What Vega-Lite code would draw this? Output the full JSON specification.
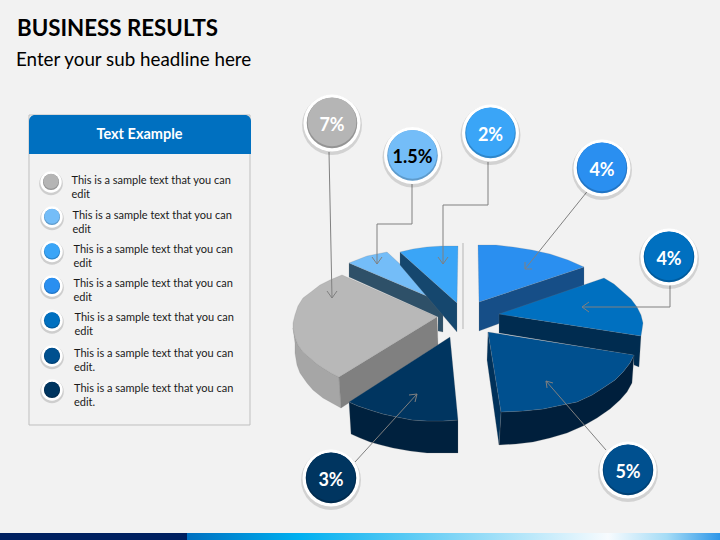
{"$schema":"https://vega.github.io/schema/vega-lite/v6.json","width":720,"height":540,"padding":0,"autosize":{"type":"none"},"background":"#f2f2f2","config":{"view":{"stroke":null}},
"datasets":{
"panels":[{"part":"panel","x":29,"x2":250,"y":115,"y2":425}],
"header":[{"x":29,"x2":251,"y":115,"y2":154}],
"band1":[{"x":0,"x2":187,"y":533,"y2":540}],
"band2":[{"x":187,"x2":720,"y":533,"y2":540}],
"titles":[{"t":"BUSINESS RESULTS","x":17,"y":36}],
"subs":[{"t":"Enter your sub headline here","x":16,"y":66}],
"heads":[{"t":"Text Example","x":139.5,"y":139}],
"items":[
{"t":"This is a sample text that you can\nedit","x":71.5,"y":184},
{"t":"This is a sample text that you can\nedit","x":72.5,"y":219},
{"t":"This is a sample text that you can\nedit","x":73.5,"y":253},
{"t":"This is a sample text that you can\nedit","x":73.5,"y":287},
{"t":"This is a sample text that you can\nedit","x":74.5,"y":321},
{"t":"This is a sample text that you can\nedit.","x":74,"y":357},
{"t":"This is a sample text that you can\nedit.","x":74,"y":392}],
"bullets":[
{"series":"s7","x":51,"y":182},{"series":"s1.5","x":52,"y":217},{"series":"s2","x":52,"y":251.5},{"series":"s4a","x":52,"y":286},{"series":"s4b","x":52,"y":320.5},{"series":"s5","x":52,"y":356},{"series":"s3","x":52,"y":390}],
"callouts":[
{"series":"s7","label":"7%","x":332,"y":123},{"series":"s1.5","label":"1.5%","x":412.5,"y":155.5},{"series":"s2","label":"2%","x":490.5,"y":133},{"series":"s4a","label":"4%","x":602,"y":168},{"series":"s4b","label":"4%","x":669,"y":257},{"series":"s5","label":"5%","x":628,"y":470},{"series":"s3","label":"3%","x":331,"y":478}],
"rule":[{"k":"r","i":0,"x":463,"y":243},{"k":"r","i":1,"x":463,"y":329}],
"leaders":[
{"k":"a","i":0,"x":329,"y":152},{"k":"a","i":1,"x":332,"y":298},
{"k":"a1","i":0,"x":327,"y":291},{"k":"a1","i":1,"x":332,"y":298},{"k":"a1","i":2,"x":337,"y":291},
{"k":"b","i":0,"x":412,"y":184},{"k":"b","i":1,"x":412,"y":224},{"k":"b","i":2,"x":377,"y":224},{"k":"b","i":3,"x":377,"y":264},
{"k":"b1","i":0,"x":372,"y":257},{"k":"b1","i":1,"x":377,"y":264},{"k":"b1","i":2,"x":382,"y":257},
{"k":"c","i":0,"x":488,"y":162},{"k":"c","i":1,"x":488,"y":205},{"k":"c","i":2,"x":443,"y":205},{"k":"c","i":3,"x":443,"y":264},
{"k":"c1","i":0,"x":438,"y":257},{"k":"c1","i":1,"x":443,"y":264},{"k":"c1","i":2,"x":448,"y":257},
{"k":"d","i":0,"x":590,"y":188},{"k":"d","i":1,"x":525,"y":269},
{"k":"d1","i":0,"x":525,"y":262},{"k":"d1","i":1,"x":525,"y":269},{"k":"d1","i":2,"x":532,"y":269},
{"k":"e","i":0,"x":670,"y":285},{"k":"e","i":1,"x":670,"y":307},{"k":"e","i":2,"x":582,"y":307},
{"k":"e1","i":0,"x":589,"y":302},{"k":"e1","i":1,"x":582,"y":307},{"k":"e1","i":2,"x":589,"y":312},
{"k":"f","i":0,"x":606,"y":450},{"k":"f","i":1,"x":546,"y":381},
{"k":"f1","i":0,"x":553,"y":383},{"k":"f1","i":1,"x":546,"y":381},{"k":"f1","i":2,"x":547,"y":388},
{"k":"g","i":0,"x":355,"y":462},{"k":"g","i":1,"x":417,"y":394},
{"k":"g1","i":0,"x":409,"y":395},{"k":"g1","i":1,"x":417,"y":394},{"k":"g1","i":2,"x":415,"y":402}],
"slices":[
{"part":"g_side","i":0,"x":293,"y":328},{"part":"g_side","i":1,"x":295,"y":337},{"part":"g_side","i":2,"x":298,"y":345},{"part":"g_side","i":3,"x":303,"y":352},{"part":"g_side","i":4,"x":310,"y":358},{"part":"g_side","i":5,"x":317,"y":364},{"part":"g_side","i":6,"x":323,"y":368},{"part":"g_side","i":7,"x":331,"y":373},{"part":"g_side","i":8,"x":339,"y":377},{"part":"g_side","i":9,"x":341,"y":408},{"part":"g_side","i":10,"x":323,"y":398},{"part":"g_side","i":11,"x":313,"y":390},{"part":"g_side","i":12,"x":307,"y":383},{"part":"g_side","i":13,"x":300,"y":373},{"part":"g_side","i":14,"x":297,"y":365},{"part":"g_side","i":15,"x":295,"y":353},{"part":"g_side","i":16,"x":295,"y":343},{"part":"g_side","i":17,"x":293,"y":328},
{"part":"g_face","i":0,"x":339,"y":377},{"part":"g_face","i":1,"x":437,"y":317},{"part":"g_face","i":2,"x":438,"y":345},{"part":"g_face","i":3,"x":341,"y":408},{"part":"g_face","i":4,"x":339,"y":377},
{"part":"g_top","i":0,"x":342,"y":275},{"part":"g_top","i":1,"x":330,"y":280},{"part":"g_top","i":2,"x":320,"y":285},{"part":"g_top","i":3,"x":311,"y":292},{"part":"g_top","i":4,"x":303,"y":298},{"part":"g_top","i":5,"x":298,"y":306},{"part":"g_top","i":6,"x":295,"y":315},{"part":"g_top","i":7,"x":293,"y":323},{"part":"g_top","i":8,"x":293,"y":328},{"part":"g_top","i":9,"x":295,"y":337},{"part":"g_top","i":10,"x":298,"y":345},{"part":"g_top","i":11,"x":303,"y":352},{"part":"g_top","i":12,"x":310,"y":358},{"part":"g_top","i":13,"x":317,"y":364},{"part":"g_top","i":14,"x":323,"y":368},{"part":"g_top","i":15,"x":331,"y":373},{"part":"g_top","i":16,"x":339,"y":377},{"part":"g_top","i":17,"x":437,"y":317},{"part":"g_top","i":18,"x":342,"y":275},
{"part":"lb_side","i":0,"x":349,"y":263},{"part":"lb_side","i":1,"x":349,"y":277},{"part":"lb_side","i":2,"x":438,"y":317},{"part":"lb_side","i":3,"x":438,"y":331},{"part":"lb_side","i":4,"x":443,"y":332},{"part":"lb_side","i":5,"x":443,"y":303},{"part":"lb_side","i":6,"x":349,"y":263},
{"part":"lb_top","i":0,"x":349,"y":263},{"part":"lb_top","i":1,"x":367,"y":256},{"part":"lb_top","i":2,"x":387,"y":252},{"part":"lb_top","i":3,"x":441,"y":302},{"part":"lb_top","i":4,"x":349,"y":263},
{"part":"b2_side","i":0,"x":400,"y":252},{"part":"b2_side","i":1,"x":457,"y":303},{"part":"b2_side","i":2,"x":457,"y":332},{"part":"b2_side","i":3,"x":400,"y":265},{"part":"b2_side","i":4,"x":400,"y":252},
{"part":"b2_top","i":0,"x":400,"y":252},{"part":"b2_top","i":1,"x":413,"y":249},{"part":"b2_top","i":2,"x":427,"y":247},{"part":"b2_top","i":3,"x":442,"y":246},{"part":"b2_top","i":4,"x":458,"y":246},{"part":"b2_top","i":5,"x":457,"y":303},{"part":"b2_top","i":6,"x":400,"y":252},
{"part":"b4_side","i":0,"x":479,"y":302},{"part":"b4_side","i":1,"x":584,"y":267},{"part":"b4_side","i":2,"x":584,"y":285},{"part":"b4_side","i":3,"x":498,"y":324},{"part":"b4_side","i":4,"x":479,"y":331},{"part":"b4_side","i":5,"x":479,"y":302},
{"part":"b4_top","i":0,"x":478,"y":245},{"part":"b4_top","i":1,"x":496,"y":245},{"part":"b4_top","i":2,"x":513,"y":247},{"part":"b4_top","i":3,"x":532,"y":250},{"part":"b4_top","i":4,"x":550,"y":254},{"part":"b4_top","i":5,"x":568,"y":260},{"part":"b4_top","i":6,"x":584,"y":267},{"part":"b4_top","i":7,"x":479,"y":302},{"part":"b4_top","i":8,"x":478,"y":245},
{"part":"d4_side","i":0,"x":499,"y":314},{"part":"d4_side","i":1,"x":641,"y":336},{"part":"d4_side","i":2,"x":639,"y":367},{"part":"d4_side","i":3,"x":634,"y":365},{"part":"d4_side","i":4,"x":633,"y":355},{"part":"d4_side","i":5,"x":499,"y":333},{"part":"d4_side","i":6,"x":499,"y":314},
{"part":"d4_top","i":0,"x":604,"y":278},{"part":"d4_top","i":1,"x":614,"y":284},{"part":"d4_top","i":2,"x":623,"y":292},{"part":"d4_top","i":3,"x":631,"y":299},{"part":"d4_top","i":4,"x":637,"y":307},{"part":"d4_top","i":5,"x":641,"y":315},{"part":"d4_top","i":6,"x":643,"y":323},{"part":"d4_top","i":7,"x":642,"y":330},{"part":"d4_top","i":8,"x":641,"y":336},{"part":"d4_top","i":9,"x":499,"y":314},{"part":"d4_top","i":10,"x":604,"y":278},
{"part":"f5_front","i":0,"x":501,"y":412},{"part":"f5_front","i":1,"x":523,"y":411},{"part":"f5_front","i":2,"x":543,"y":409},{"part":"f5_front","i":3,"x":562,"y":405},{"part":"f5_front","i":4,"x":577,"y":402},{"part":"f5_front","i":5,"x":592,"y":395},{"part":"f5_front","i":6,"x":603,"y":388},{"part":"f5_front","i":7,"x":615,"y":380},{"part":"f5_front","i":8,"x":623,"y":372},{"part":"f5_front","i":9,"x":630,"y":363},{"part":"f5_front","i":10,"x":634,"y":355},{"part":"f5_front","i":11,"x":632,"y":383},{"part":"f5_front","i":12,"x":627,"y":392},{"part":"f5_front","i":13,"x":620,"y":400},{"part":"f5_front","i":14,"x":610,"y":409},{"part":"f5_front","i":15,"x":597,"y":418},{"part":"f5_front","i":16,"x":583,"y":426},{"part":"f5_front","i":17,"x":567,"y":433},{"part":"f5_front","i":18,"x":550,"y":438},{"part":"f5_front","i":19,"x":533,"y":442},{"part":"f5_front","i":20,"x":516,"y":444},{"part":"f5_front","i":21,"x":499,"y":445},{"part":"f5_front","i":22,"x":501,"y":412},
{"part":"f5_left","i":0,"x":488,"y":332},{"part":"f5_left","i":1,"x":501,"y":412},{"part":"f5_left","i":2,"x":499,"y":445},{"part":"f5_left","i":3,"x":487,"y":360},{"part":"f5_left","i":4,"x":488,"y":332},
{"part":"f5_top","i":0,"x":488,"y":332},{"part":"f5_top","i":1,"x":634,"y":355},{"part":"f5_top","i":2,"x":630,"y":363},{"part":"f5_top","i":3,"x":623,"y":372},{"part":"f5_top","i":4,"x":615,"y":380},{"part":"f5_top","i":5,"x":603,"y":388},{"part":"f5_top","i":6,"x":592,"y":395},{"part":"f5_top","i":7,"x":577,"y":402},{"part":"f5_top","i":8,"x":562,"y":405},{"part":"f5_top","i":9,"x":543,"y":409},{"part":"f5_top","i":10,"x":523,"y":411},{"part":"f5_top","i":11,"x":501,"y":412},{"part":"f5_top","i":12,"x":488,"y":332},
{"part":"n3_side","i":0,"x":349,"y":402},{"part":"n3_side","i":1,"x":358,"y":406},{"part":"n3_side","i":2,"x":370,"y":410},{"part":"n3_side","i":3,"x":383,"y":414},{"part":"n3_side","i":4,"x":397,"y":417},{"part":"n3_side","i":5,"x":412,"y":420},{"part":"n3_side","i":6,"x":427,"y":421},{"part":"n3_side","i":7,"x":443,"y":421},{"part":"n3_side","i":8,"x":458,"y":420},{"part":"n3_side","i":9,"x":458,"y":453},{"part":"n3_side","i":10,"x":443,"y":453},{"part":"n3_side","i":11,"x":427,"y":453},{"part":"n3_side","i":12,"x":410,"y":451},{"part":"n3_side","i":13,"x":393,"y":448},{"part":"n3_side","i":14,"x":381,"y":445},{"part":"n3_side","i":15,"x":370,"y":442},{"part":"n3_side","i":16,"x":360,"y":438},{"part":"n3_side","i":17,"x":351,"y":434},{"part":"n3_side","i":18,"x":349,"y":402},
{"part":"n3_top","i":0,"x":450,"y":337},{"part":"n3_top","i":1,"x":458,"y":420},{"part":"n3_top","i":2,"x":443,"y":421},{"part":"n3_top","i":3,"x":427,"y":421},{"part":"n3_top","i":4,"x":412,"y":420},{"part":"n3_top","i":5,"x":397,"y":417},{"part":"n3_top","i":6,"x":383,"y":414},{"part":"n3_top","i":7,"x":370,"y":410},{"part":"n3_top","i":8,"x":358,"y":406},{"part":"n3_top","i":9,"x":349,"y":402},{"part":"n3_top","i":10,"x":450,"y":337}]
},
"encoding":{"x":{"field":"x","type":"quantitative","axis":null,"scale":{"domain":[0,720],"nice":false,"zero":false}},"y":{"field":"y","type":"quantitative","axis":null,"scale":{"domain":[540,0],"nice":false,"zero":false}}},
"layer":[
{"data":{"name":"panels"},"mark":{"type":"rect","fill":"#f2f2f2","stroke":"#bfbfbf","strokeWidth":1},"encoding":{"x2":{"field":"x2"},"y2":{"field":"y2"}}},
{"data":{"name":"header"},"mark":{"type":"rect","fill":"#0070c0","cornerRadiusTopLeft":6,"cornerRadiusTopRight":6},"encoding":{"x2":{"field":"x2"},"y2":{"field":"y2"}}},
{"data":{"name":"band1"},"mark":{"type":"rect","fill":"#002060"},"encoding":{"x2":{"field":"x2"},"y2":{"field":"y2"}}},
{"data":{"name":"band2"},"mark":{"type":"rect","fill":{"gradient":"linear","x1":0,"y1":0,"x2":1,"y2":0,"stops":[{"offset":0,"color":"#0070c0"},{"offset":0.21,"color":"#00b0f0"},{"offset":0.5,"color":"#7fd5f6"},{"offset":0.79,"color":"#f7fbfe"},{"offset":0.9,"color":"#a5dcf6"},{"offset":1,"color":"#2e96e8"}]}},"encoding":{"x2":{"field":"x2"},"y2":{"field":"y2"}}},
{"data":{"name":"titles"},"mark":{"type":"text","font":"Lato","fontWeight":"bold","fontSize":22.3,"align":"left","baseline":"alphabetic","color":"#000000"},"encoding":{"text":{"field":"t"}}},
{"data":{"name":"subs"},"mark":{"type":"text","font":"Lato","fontSize":18.8,"align":"left","baseline":"alphabetic","color":"#000000"},"encoding":{"text":{"field":"t"}}},
{"data":{"name":"heads"},"mark":{"type":"text","font":"Lato","fontWeight":"bold","fontSize":14.5,"align":"center","baseline":"alphabetic","color":"#ffffff"},"encoding":{"text":{"field":"t"}}},
{"data":{"name":"items"},"mark":{"type":"text","font":"Lato","fontSize":11,"align":"left","baseline":"alphabetic","lineBreak":"\n","lineHeight":14.3,"color":"#1a1a1a"},"encoding":{"text":{"field":"t"}}},
{"data":{"name":"slices"},"mark":{"type":"line","filled":true,"stroke":"#777777","strokeWidth":0.5,"strokeOpacity":0.4,"interpolate":"linear"},"encoding":{"order":{"field":"i","type":"quantitative"},"detail":{"field":"part"},"color":{"field":"part","type":"nominal","legend":null,"scale":{"domain":["g_side","g_face","g_top","lb_side","lb_top","b2_side","b2_top","b4_side","b4_top","d4_side","d4_top","f5_front","f5_left","f5_top","n3_side","n3_top","s7","s1.5","s2","s4a","s4b","s5","s3"],"range":["#a6a6a6","#808080","#b8b8b8","#2e5068","#74bdf8","#15476e","#3aa5f7","#164e87","#2a8ff0","#002c50","#0070c0","#001f3c","#00315a","#00508f","#00213e","#003560","#b5b5b5","#74bdf8","#3aa5f7","#2a8ff0","#0070c0","#00508f","#003560"]}}}},
{"data":{"name":"rule"},"mark":{"type":"line","color":"#b5b5b5","strokeWidth":1},"encoding":{"order":{"field":"i","type":"quantitative"},"detail":{"field":"k"}}},
{"data":{"name":"leaders"},"mark":{"type":"line","color":"#808080","strokeWidth":1},"encoding":{"order":{"field":"i","type":"quantitative"},"detail":{"field":"k"}}},
{"data":{"name":"callouts"},"mark":{"type":"point","filled":true,"shape":"circle","color":"#000000","opacity":0.13,"size":3600,"yOffset":2}},
{"data":{"name":"callouts"},"mark":{"type":"point","filled":true,"shape":"circle","color":"#ffffff","opacity":1,"size":3250}},
{"data":{"name":"callouts"},"mark":{"type":"point","filled":true,"shape":"circle","opacity":1,"size":2550},"encoding":{"color":{"field":"series","type":"nominal","legend":null}}},
{"data":{"name":"callouts"},"mark":{"type":"point","filled":true,"shape":"circle","color":"#000000","opacity":0.18,"size":2550}},
{"data":{"name":"callouts"},"mark":{"type":"point","filled":true,"shape":"circle","opacity":1,"size":2380,"yOffset":-1.2},"encoding":{"color":{"field":"series","type":"nominal","legend":null}}},
{"data":{"name":"callouts"},"mark":{"type":"text","font":"Lato","fontWeight":"bold","fontSize":18,"align":"center","baseline":"middle","yOffset":2.5},"encoding":{"text":{"field":"label"},"color":{"condition":{"test":"datum.label==='1.5%'","value":"#000000"},"value":"#ffffff"}}},
{"data":{"name":"bullets"},"mark":{"type":"point","filled":true,"shape":"circle","color":"#000000","opacity":0.15,"size":560,"yOffset":1.5}},
{"data":{"name":"bullets"},"mark":{"type":"point","filled":true,"shape":"circle","color":"#ffffff","opacity":1,"size":460}},
{"data":{"name":"bullets"},"mark":{"type":"point","filled":true,"shape":"circle","opacity":1,"size":260},"encoding":{"color":{"field":"series","type":"nominal","legend":null}}},
{"data":{"name":"bullets"},"mark":{"type":"point","filled":true,"shape":"circle","color":"#000000","opacity":0.18,"size":260}},
{"data":{"name":"bullets"},"mark":{"type":"point","filled":true,"shape":"circle","opacity":1,"size":225,"yOffset":-0.8},"encoding":{"color":{"field":"series","type":"nominal","legend":null}}}
]}
